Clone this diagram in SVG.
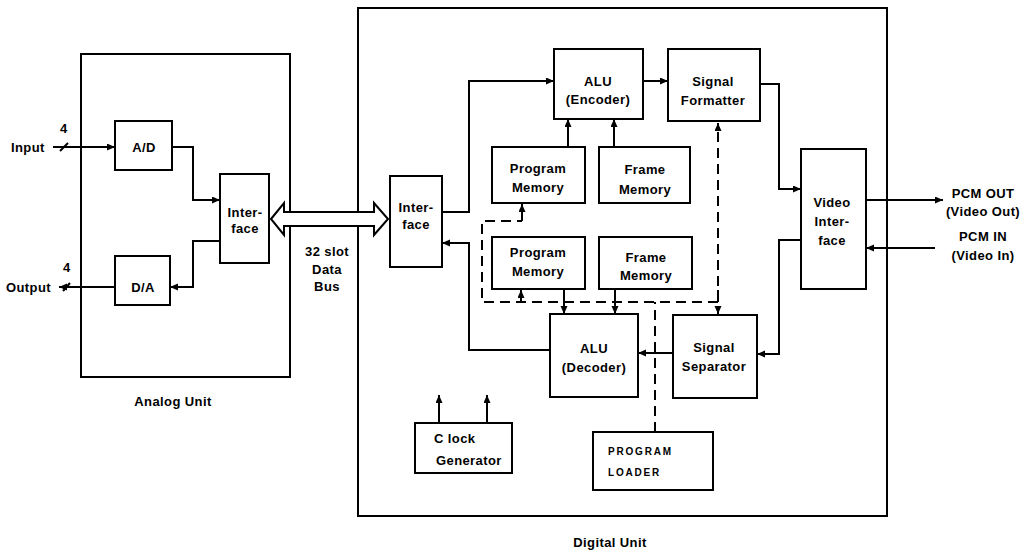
<svg xmlns="http://www.w3.org/2000/svg" width="1028" height="552" viewBox="0 0 1028 552">
  <defs>
    <marker id="ah" markerWidth="9" markerHeight="8" refX="8" refY="3.5" orient="auto" markerUnits="userSpaceOnUse">
      <path d="M0,0 L8,3.5 L0,7 z" fill="#000"/>
    </marker>
    <style>
      .box { fill: #fff; stroke: #000; stroke-width: 2; }
      .frame { fill: none; stroke: #000; stroke-width: 2; }
      .ln { fill: none; stroke: #000; stroke-width: 2; }
      .arr { fill: none; stroke: #000; stroke-width: 2; marker-end: url(#ah); }
      .dash { fill: none; stroke: #000; stroke-width: 2; stroke-dasharray: 10 6; }
      .dasharr { fill: none; stroke: #000; stroke-width: 2; stroke-dasharray: 10 6; marker-end: url(#ah); }
      text { font-family: "Liberation Sans", Arial, sans-serif; font-weight: bold; font-size: 13px; fill: #000; letter-spacing: 0.4px; }
      .c { text-anchor: middle; }
      .small { font-size: 10px; letter-spacing: 1.8px; }
    </style>
  </defs>

  <!-- unit frames -->
  <g id="analog-unit">
    <rect class="frame" x="81" y="54" width="209" height="323"/>
    <text class="c" x="173" y="406">Analog Unit</text>
  </g>
  <g id="digital-unit">
    <rect class="frame" x="358" y="8" width="529" height="508"/>
    <text class="c" x="610" y="547">Digital Unit</text>
  </g>

  <!-- connectors -->
  <g id="connectors">
    <!-- analog side -->
    <path class="arr" d="M53,147 L115,147"/>
    <path class="ln" d="M60,151 L68,143"/>
    <path class="arr" d="M172,147 H193 V200 H220"/>
    <path class="arr" d="M220,241 H193 V287 H170"/>
    <path class="arr" d="M115,287 H59"/>
    <path class="ln" d="M63,291 L70,283"/>

    <!-- encoder path -->
    <path class="arr" d="M442,212 H469 V81 H554"/>
    <path class="arr" d="M643,81 H668"/>
    <path class="arr" d="M568,147 V119"/>
    <path class="arr" d="M614,147 V119"/>
    <path class="arr" d="M760,84 H779 V189 H801"/>

    <!-- decoder path -->
    <path class="arr" d="M550,350 H469 V243 H442"/>
    <path class="arr" d="M564,289 V314"/>
    <path class="arr" d="M615,289 V314"/>
    <path class="arr" d="M673,353 H638"/>
    <path class="arr" d="M801,240 H779 V354 H757"/>

    <!-- video in / out -->
    <path class="arr" d="M866,200 H943"/>
    <path class="arr" d="M935,248 H866"/>

    <!-- clock outputs -->
    <path class="arr" d="M439,423 V395"/>
    <path class="arr" d="M487,423 V395"/>

    <!-- program loader bus (dashed) -->
    <path class="dash" d="M655,432 V302"/>
    <path class="dash" d="M718,302 H482 V221 H522"/>
    <path class="arr" d="M522,221 V204"/>
    <path class="arr" d="M521,302 V290"/>
    <path class="dasharr" d="M718,302 V123"/>
    <path class="dasharr" d="M718,290 V314"/>

    <!-- 32 slot data bus -->
    <path d="M271,219 L284,203 L284,212 L374,212 L374,203 L388,219 L374,235 L374,226 L284,226 L284,235 Z" fill="#fff" stroke="#000" stroke-width="2" stroke-linejoin="miter"/>
  </g>

  <!-- external labels -->
  <g id="labels">
    <text x="11" y="152">Input</text>
    <text x="60" y="133">4</text>
    <text x="6" y="292">Output</text>
    <text x="63" y="272">4</text>
    <text class="c" x="327" y="256">32 slot</text>
    <text class="c" x="327" y="274">Data</text>
    <text class="c" x="327" y="291">Bus</text>
    <text class="c" x="983" y="198">PCM OUT</text>
    <text class="c" x="983" y="216">(Video Out)</text>
    <text class="c" x="983" y="241">PCM IN</text>
    <text class="c" x="983" y="260">(Video In)</text>
  </g>

  <!-- analog blocks -->
  <g id="ad">
    <rect class="box" x="115" y="121" width="57" height="49"/>
    <text class="c" x="144" y="152">A/D</text>
  </g>
  <g id="da">
    <rect class="box" x="115" y="256" width="55" height="49"/>
    <text class="c" x="143" y="292">D/A</text>
  </g>
  <g id="analog-interface">
    <rect class="box" x="220" y="174" width="49" height="89"/>
    <text class="c" x="245" y="217">Inter-</text>
    <text class="c" x="245" y="233">face</text>
  </g>

  <!-- digital blocks -->
  <g id="digital-interface">
    <rect class="box" x="390" y="176" width="52" height="91"/>
    <text class="c" x="416" y="212">Inter-</text>
    <text class="c" x="416" y="229">face</text>
  </g>
  <g id="alu-encoder">
    <rect class="box" x="554" y="49" width="89" height="70"/>
    <text class="c" x="598" y="86">ALU</text>
    <text class="c" x="598" y="104">(Encoder)</text>
  </g>
  <g id="signal-formatter">
    <rect class="box" x="668" y="49" width="92" height="72"/>
    <text class="c" x="713" y="86">Signal</text>
    <text class="c" x="713" y="105">Formatter</text>
  </g>
  <g id="program-memory-enc">
    <rect class="box" x="492" y="147" width="93" height="56"/>
    <text class="c" x="538" y="173">Program</text>
    <text class="c" x="538" y="192">Memory</text>
  </g>
  <g id="frame-memory-enc">
    <rect class="box" x="599" y="147" width="91" height="56"/>
    <text class="c" x="645" y="174">Frame</text>
    <text class="c" x="645" y="194">Memory</text>
  </g>
  <g id="program-memory-dec">
    <rect class="box" x="492" y="237" width="93" height="52"/>
    <text class="c" x="538" y="257">Program</text>
    <text class="c" x="538" y="276">Memory</text>
  </g>
  <g id="frame-memory-dec">
    <rect class="box" x="599" y="237" width="93" height="52"/>
    <text class="c" x="646" y="262">Frame</text>
    <text class="c" x="646" y="280">Memory</text>
  </g>
  <g id="alu-decoder">
    <rect class="box" x="550" y="314" width="88" height="83"/>
    <text class="c" x="594" y="353">ALU</text>
    <text class="c" x="594" y="372">(Decoder)</text>
  </g>
  <g id="signal-separator">
    <rect class="box" x="673" y="315" width="84" height="83"/>
    <text class="c" x="714" y="352">Signal</text>
    <text class="c" x="714" y="371">Separator</text>
  </g>
  <g id="video-interface">
    <rect class="box" x="801" y="149" width="65" height="140"/>
    <text class="c" x="832" y="207">Video</text>
    <text class="c" x="832" y="226">Inter-</text>
    <text class="c" x="832" y="245">face</text>
  </g>
  <g id="clock-generator">
    <rect class="box" x="415" y="423" width="97" height="50"/>
    <text x="434" y="443">C lock</text>
    <text x="436" y="465">Generator</text>
  </g>
  <g id="program-loader">
    <rect class="box" x="593" y="432" width="120" height="58"/>
    <text class="small" x="608" y="455">PROGRAM</text>
    <text class="small" x="608" y="476">LOADER</text>
  </g>
</svg>
